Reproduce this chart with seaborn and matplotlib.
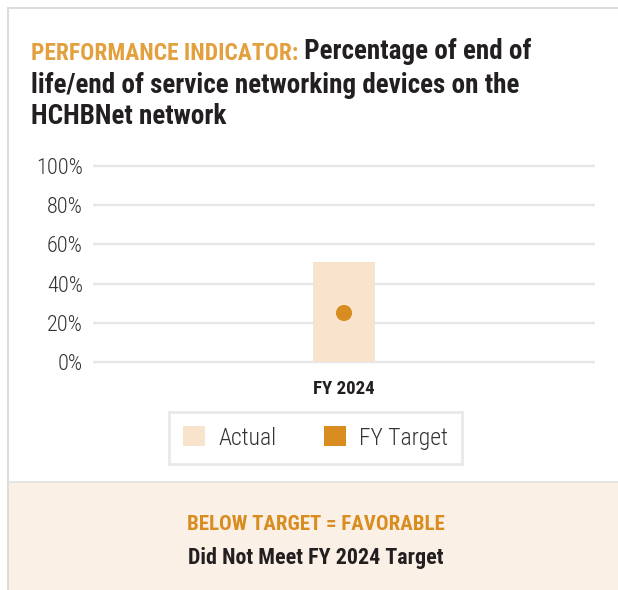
import matplotlib
matplotlib.use("Agg")
import matplotlib.pyplot as plt
import seaborn as sns
import pandas as pd
from matplotlib import font_manager
from matplotlib.patches import Rectangle, Patch
from matplotlib.lines import Line2D

# data
categories = ["FY 2024"]
actual = [51]
target = [25]
y_ticks = [0, 20, 40, 60, 80, 100]
legend_labels = ["Actual", "FY Target"]

BAR = "#F8E4CD"
DOT = "#D98C1F"
TITLE_ORANGE = "#E3A03E"
GRID = "#E6E6E9"
TEXT = "#231F20"

sns.set_theme(style="white")

# pick a narrow face if one is installed
names = {f.name for f in font_manager.fontManager.ttflist}
family = ["DejaVu Sans"]
for cand in ["Liberation Sans Narrow", "Roboto Condensed", "Open Sans Condensed"]:
    if cand in names:
        family = [cand, "DejaVu Sans"]
        break
plt.rcParams["font.family"] = family

W, H = 618, 590
fig = plt.figure(figsize=(W / 100, H / 100), dpi=100)


def fx(px):
    return px / W


def fy(py):
    return 1 - py / H


# card border and bottom panel
fig.add_artist(Line2D([fx(7.5), fx(7.5)], [fy(8), 0], color="#DCDCDC", lw=1.5))
fig.add_artist(Line2D([fx(7.5), 1], [fy(8), fy(8)], color="#DCDCDC", lw=1.5))
fig.add_artist(Rectangle((fx(8.5), 0), 1, fy(482), facecolor="#FAF0E6",
                         edgecolor="none", transform=fig.transFigure))
fig.add_artist(Line2D([fx(8), 1], [fy(482), fy(482)], color="#E2E2E2", lw=1.2))

# axes: 0% at y=362, 100% at y=166, x from 93 to 595
lo, hi = -3, 103
ppu = (362 - 166) / 100
ax_top = 166 - (hi - 100) * ppu
ax_bot = 362 + (0 - lo) * ppu
ax = fig.add_axes([fx(93), fy(ax_bot), fx(595) - fx(93), (ax_bot - ax_top) / H])

df = pd.DataFrame({"year": categories, "actual": actual, "target": target})
sns.barplot(data=df, x="year", y="actual", color=BAR, width=0.5,
            saturation=1, linewidth=0, ax=ax, zorder=3)
sns.scatterplot(data=df, x="year", y="target", color=DOT, s=135,
                edgecolor="none", ax=ax, zorder=4)

ax.set_xlim(-2, 2)
ax.set_ylim(lo, hi)
ax.set_yticks(y_ticks)
ax.set_yticklabels([f"{v}%" for v in y_ticks])
for v in y_ticks:
    ax.axhline(v, color=GRID, lw=1.7, zorder=1)
for s in ax.spines.values():
    s.set_visible(False)
ax.set_xlabel("")
ax.set_ylabel("")
ax.tick_params(axis="y", length=0, pad=7.3, labelsize=16, labelcolor="#333333")
ax.tick_params(axis="x", length=0, pad=8.5, labelsize=13.6, labelcolor=TEXT)
for lab in ax.get_yticklabels():
    lab.set_fontweight("light")
for lab in ax.get_xticklabels():
    lab.set_fontweight("bold")
ax.patch.set_alpha(0)

# title
t1 = fig.text(fx(31), fy(60), "PERFORMANCE INDICATOR:", color=TITLE_ORANGE,
              fontsize=16.9, fontweight="bold", ha="left", va="baseline")
ax.annotate(" Percentage of end of", xy=(1, 0), xycoords=t1,
            color=TEXT, fontsize=19.5, fontweight="bold", ha="left", va="bottom",
            annotation_clip=False)
fig.text(fx(31), fy(92.7), "life/end of service networking devices on the",
         color=TEXT, fontsize=19.5, fontweight="bold", ha="left", va="baseline")
fig.text(fx(31), fy(124.3), "HCHBNet network",
         color=TEXT, fontsize=19.5, fontweight="bold", ha="left", va="baseline")

# legend
handles = [Patch(facecolor=BAR, edgecolor="none"),
           Patch(facecolor=DOT, edgecolor="none")]
leg = fig.legend(handles, legend_labels, loc="center",
                 bbox_to_anchor=(fx(315.5), fy(438)), ncol=2, frameon=True,
                 fancybox=False, fontsize=17, handlelength=0.93, handleheight=0.93,
                 handletextpad=0.55, columnspacing=2.0, borderpad=0.6)
leg.get_frame().set_edgecolor("#E3E3E6")
leg.get_frame().set_linewidth(2)
for t in leg.get_texts():
    t.set_color("#333333")
    t.set_fontweight("light")

# bottom panel text
fig.text(fx(316), fy(525), "BELOW TARGET = FAVORABLE", color=DOT, fontsize=15,
         fontweight="bold", ha="center", va="center")
fig.text(fx(316), fy(558), "Did Not Meet FY 2024 Target", color=TEXT,
         fontsize=15.8, fontweight="bold", ha="center", va="center")

fig.savefig("out.png", dpi=100)
